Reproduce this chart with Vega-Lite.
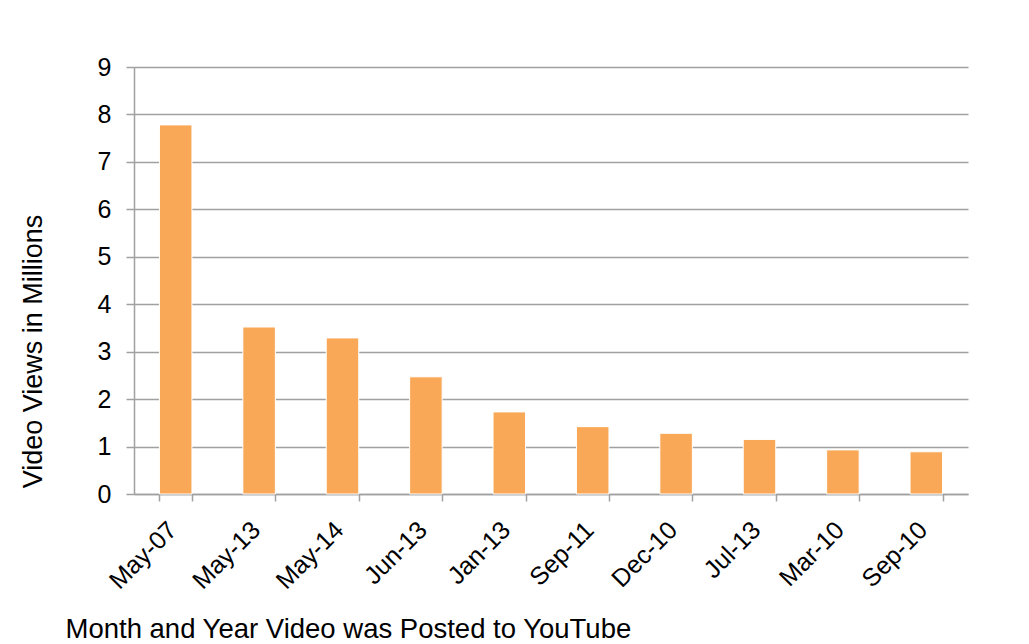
{
  "$schema": "https://vega.github.io/schema/vega-lite/v6.json",
  "autosize": {"type": "none"},
  "padding": {"left": 134, "top": 67, "right": 61, "bottom": 150},
  "width": 834,
  "height": 427,
  "background": "white",
  "data": {"values": [
    {"month": "May-07", "views": 7.78},
    {"month": "May-13", "views": 3.52},
    {"month": "May-14", "views": 3.29},
    {"month": "Jun-13", "views": 2.47},
    {"month": "Jan-13", "views": 1.73},
    {"month": "Sep-11", "views": 1.42},
    {"month": "Dec-10", "views": 1.28},
    {"month": "Jul-13", "views": 1.15},
    {"month": "Mar-10", "views": 0.93},
    {"month": "Sep-10", "views": 0.89}
  ]},
  "mark": {"type": "bar", "color": "#F9A857", "stroke": "#FFFFFF", "strokeWidth": 1},
  "encoding": {
    "x": {
      "field": "month", "type": "nominal", "sort": null,
      "scale": {"paddingInner": 0.61, "paddingOuter": 0.305},
      "axis": {
        "title": "Month and Year Video was Posted to YouTube",
        "titleFont": "Liberation Sans", "titleFontSize": 27.5, "titleFontWeight": "normal", "titleColor": "#000000",
        "titleAnchor": "start", "titleAlign": "left", "titleBaseline": "middle",
        "titleX": -69, "titleY": 135,
        "labelAngle": -45, "labelFont": "Liberation Sans", "labelFontSize": 25, "labelColor": "#000000",
        "labelPadding": 16, "labelOffset": -12,
        "tickBand": "extent", "tickSize": 7, "tickColor": "#a0a0a0", "tickWidth": 1.5,
        "domainColor": "#a0a0a0", "domainWidth": 1.5,
        "grid": false
      }
    },
    "y": {
      "field": "views", "type": "quantitative",
      "scale": {"domain": [0, 9], "nice": false},
      "axis": {
        "title": "Video Views in Millions",
        "titleFont": "Liberation Sans", "titleFontSize": 27, "titleFontWeight": "normal", "titleColor": "#000000",
        "titleAngle": -90, "titleAlign": "center", "titleBaseline": "middle",
        "titleX": -101, "titleY": 284,
        "values": [0, 1, 2, 3, 4, 5, 6, 7, 8, 9],
        "labelFont": "Liberation Sans", "labelFontSize": 25, "labelColor": "#000000", "labelPadding": 15,
        "tickSize": 8, "tickColor": "#a0a0a0", "tickWidth": 1.5,
        "domainColor": "#a0a0a0", "domainWidth": 1.5,
        "grid": true, "gridColor": "#a0a0a0", "gridWidth": 1.5
      }
    }
  },
  "config": {"view": {"stroke": null}}
}
